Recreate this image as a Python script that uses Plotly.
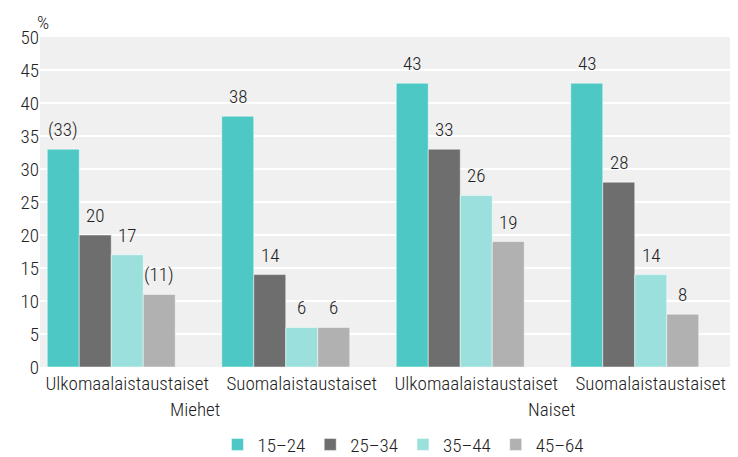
import plotly.graph_objects as go

categories = ["Ulkomaalaistaustaiset", "Suomalaistaustaiset", "Ulkomaalaistaustaiset ", "Suomalaistaustaiset "]
tick_labels = ["Ulkomaalaistaustaiset", "Suomalaistaustaiset", "Ulkomaalaistaustaiset", "Suomalaistaustaiset"]
groups = ["Miehet", "Naiset"]
series_names = ["15–24", "25–34", "35–44", "45–64"]
values_15_24 = [33, 38, 43, 43]
values_25_34 = [20, 14, 33, 28]
values_35_44 = [17, 6, 26, 14]
values_45_64 = [11, 6, 19, 8]
# labels in parentheses = uncertain estimates
labels_15_24 = ["(33)", "38", "43", "43"]
labels_25_34 = ["20", "14", "33", "28"]
labels_35_44 = ["17", "6", "26", "14"]
labels_45_64 = ["(11)", "6", "19", "8"]

colors = ["#4ec8c5", "#6e6e6e", "#9ce0de", "#b1b1b1"]
font_family = "Roboto Condensed, sans-serif"
txt = dict(family=font_family, size=19, color='#222222', weight=300)
bargap = 0.083
n_slots = 5  # 4 series + 1 empty slot

fig = go.Figure()

all_values = [values_15_24, values_25_34, values_35_44, values_45_64]
all_labels = [labels_15_24, labels_25_34, labels_35_44, labels_45_64]

slot_w = (1 - bargap) / n_slots
for j, (name, vals, labs, col) in enumerate(zip(series_names, all_values, all_labels, colors)):
    fig.add_trace(go.Bar(
        x=categories,
        y=vals,
        name=name,
        marker=dict(color=col, line=dict(color='rgba(255,255,255,0.6)', width=0.8)),
    ))
    # value labels sit a little higher above the bars than plotly's own outside text
    for i, (v, lab) in enumerate(zip(vals, labs)):
        fig.add_annotation(x=i - 0.5 + bargap / 2 + (j + 0.5) * slot_w, y=v, xref='x', yref='y',
                           text=lab, showarrow=False, yanchor='bottom', yshift=6, font=txt)

# empty slot so each group leaves a gap on its right side
fig.add_trace(go.Bar(x=categories, y=[None] * 4, showlegend=False, hoverinfo='skip'))

fig.add_annotation(x=0.39, y=-0.13, xref='x', yref='paper', text=groups[0], showarrow=False,
                   font=txt, yanchor='middle')
fig.add_annotation(x=2.43, y=-0.13, xref='x', yref='paper', text=groups[1], showarrow=False,
                   font=txt, yanchor='middle')
fig.add_annotation(x=0.005, y=1.0, xref='paper', yref='paper', text='%', showarrow=False,
                   xanchor='center', yanchor='bottom', yshift=1, font=txt)

# page has an 8px body margin, so the figure is sized to fill the rest of the window
fig.update_layout(
    width=730,
    height=449,
    margin=dict(l=32, r=0, t=29, b=90, autoexpand=False),
    barmode='group',
    bargap=bargap,
    bargroupgap=0,
    plot_bgcolor='#f0f0f0',
    paper_bgcolor='white',
    font=txt,
    showlegend=True,
    legend=dict(orientation='h', x=0.52, xanchor='center', y=-0.235, yanchor='middle',
                font=txt, itemclick=False),
    xaxis=dict(
        tickmode='array',
        tickvals=categories,
        ticktext=tick_labels,
        showgrid=False,
        ticks='',
        tickfont=txt,
        ticklabelstandoff=3,
    ),
    yaxis=dict(
        range=[0, 50],
        tickvals=list(range(0, 55, 5)),
        showgrid=True,
        gridcolor='white',
        gridwidth=2,
        zeroline=False,
        ticks='',
        tickfont=txt,
    ),
)

fig.write_html("out.html")
